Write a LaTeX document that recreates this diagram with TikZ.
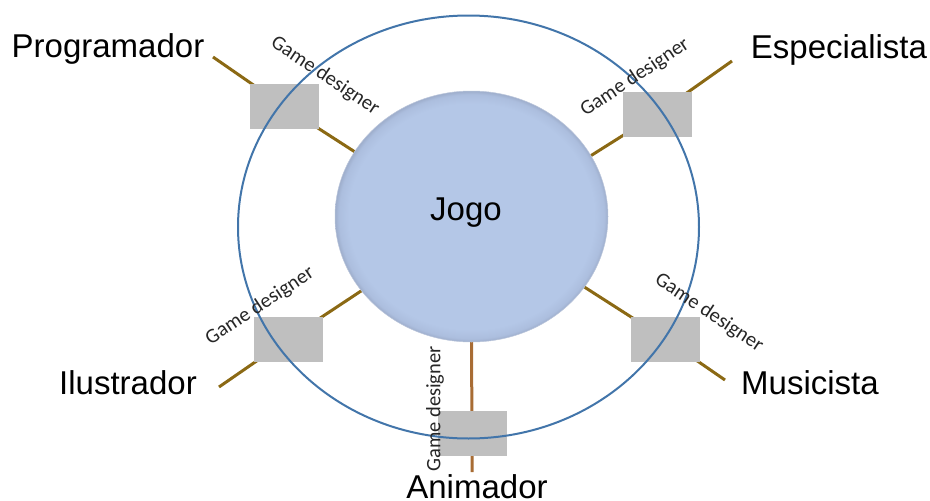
\documentclass[tikz,border=0pt]{standalone}
\usepackage{fontspec}
\setmainfont{Liberation Sans}
\newfontfamily\gdfont{Carlito}
\usetikzlibrary{shapes.geometric}

\definecolor{ringblue}{RGB}{66,117,170}
\definecolor{linkolive}{RGB}{139,105,20}
\definecolor{linkbrown}{RGB}{168,108,52}
\definecolor{boxgray}{RGB}{191,191,191}
\definecolor{gamefill}{RGB}{180,199,231}
\definecolor{gameedge}{RGB}{172,190,222}
\definecolor{gamerim}{RGB}{158,174,204}

% soft bevel towards the rim of the central ellipse
\pgfdeclareradialshading{gamebevel}{\pgfpoint{0bp}{0bp}}{%
  color(0bp)=(gamefill); color(22.5bp)=(gamefill);
  color(24.3bp)=(gameedge); color(25bp)=(gamerim); color(50bp)=(gamerim)}

\pgfdeclarelayer{background}
\pgfsetlayers{background,main}

\tikzset{
  role/.style={font=\fontsize{33}{40}\selectfont, inner sep=0, anchor=base},
  gd/.style={font=\gdfont\fontsize{20.5}{24}\selectfont, inner sep=0, text=black!85},
  member/.style={rectangle, fill=boxgray, minimum width=69, minimum height=45, inner sep=0},
  game/.style={ellipse, minimum width=273, minimum height=251, inner sep=0, outer sep=0,
    shading=gamebevel, draw=gamerim!70, line width=0.5, text depth=15,
    font=\fontsize{33}{40}\selectfont},
  ring/.style={ellipse, draw=ringblue, line width=2, minimum width=461, minimum height=423, inner sep=0},
  link/.style={draw=linkolive, line width=3},
  linkb/.style={draw=linkbrown, line width=3},
}

\begin{document}
\begin{tikzpicture}[x=1pt, y=-1pt]
  \useasboundingbox (0,0) rectangle (930,501);

  % the game
  \node[game] (jogo) at (471.5,216.5) {Jogo\hspace*{11pt}};

  % team members around it
  \node[member] (prog-box) at (284.5,106.5) {};
  \node[member] (esp-box)  at (657,114) {};
  \node[member] (ilus-box) at (288.5,339) {};
  \node[member] (mus-box)  at (665.5,339) {};
  \node[member] (anim-box) at (472,433) {};

  % outer boundary
  \node[ring] (ring) at (468.5,227) {};

  % roles
  \node[role] (prog) at (108,57)  {Programador};
  \node[role] (esp)  at (839,58)  {Especialista};
  \node[role] (ilus) at (128,394) {Ilustrador};
  \node[role] (mus)  at (810,394) {Musicista};
  \node[role] (anim) at (477,498) {Animador};

  % outer ends of the links
  \coordinate (prog-end) at (213,57);
  \coordinate (esp-end)  at (732,61);
  \coordinate (ilus-end) at (219,387);
  \coordinate (mus-end)  at (725,380);
  \coordinate (anim-end) at (472,472);

  \begin{pgfonlayer}{background}
    \draw[link]  (prog-end) -- (prog-box.center) -- (jogo.151.4);
    \draw[link]  (esp-end)  -- (esp-box.center)  -- (jogo.27.4);
    \draw[link]  (ilus-end) -- (ilus-box.center) -- (jogo.214.7);
    \draw[link]  (mus-end)  -- (mus-box.center)  -- (jogo.328.5);
    \draw[linkb] (anim-end) -- (anim-box.center) -- (jogo.270);
  \end{pgfonlayer}

  % link labels
  \node[gd, rotate=-33.5] (gd-prog) at (325,76)   {Game designer};
  \node[gd, rotate=33.5]  (gd-esp)  at (635,77.5) {Game designer};
  \node[gd, rotate=33.5]  (gd-ilus) at (260,306)  {Game designer};
  \node[gd, rotate=-33.5] (gd-mus)  at (709,313)  {Game designer};
  \node[gd, rotate=90]    (gd-anim) at (435,409)  {Game designer};
\end{tikzpicture}
\end{document}
